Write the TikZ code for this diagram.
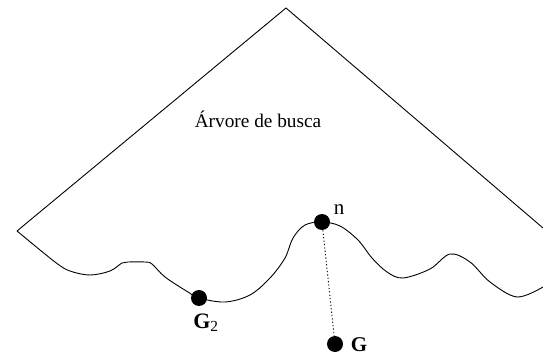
\documentclass[tikz,border=0pt]{standalone}
\usepackage{fontspec}
\setmainfont{Liberation Serif}
\begin{document}
\begin{tikzpicture}[x=1pt,y=-1pt,line width=0.9pt,
  dot/.style={circle,fill=black,inner sep=0pt,minimum size=16pt},
  lbl/.style={inner sep=0pt,font=\fontsize{21}{24}\selectfont},
  title/.style={inner sep=0pt,font=\fontsize{19.3}{22}\selectfont}]
\useasboundingbox (0,0) rectangle (543,358);
\draw (17,231) -- (286,8) -- (543,228);
\draw plot[smooth,tension=0.55] coordinates {(17,231) (55,262) (70,271) (90,275) (110,271) (122,263) (128,262) (145,262) (152,264) (165,277) (188,292) (199,298) (225,302) (250,295) (270,278) (285,258) (293,238) (305,225) (322,222) (340,226) (358,240) (372,258) (387,272) (403,278) (430,269) (450,254) (470,262) (490,282) (517,297) (543,287)};
\node[dot] (n) at (322,222) {};
\node[dot] (g2) at (199,298) {};
\node[dot] (g) at (335,344) {};
\draw[line width=0.9pt,dash pattern=on 1.2pt off 2.2pt] (n) -- (g);
\node[title] (t) at (258,119) {Árvore de busca};
\node[lbl] (nl) at (339,210) {n};
\node[lbl] (g2l) at (206,323) {\fontsize{22}{24}\selectfont\textbf{G}$_{\mathrm{2}}$};
\node[lbl] (gl) at (359,345) {\fontsize{21}{24}\selectfont\textbf{G}};
\end{tikzpicture}
\end{document}
